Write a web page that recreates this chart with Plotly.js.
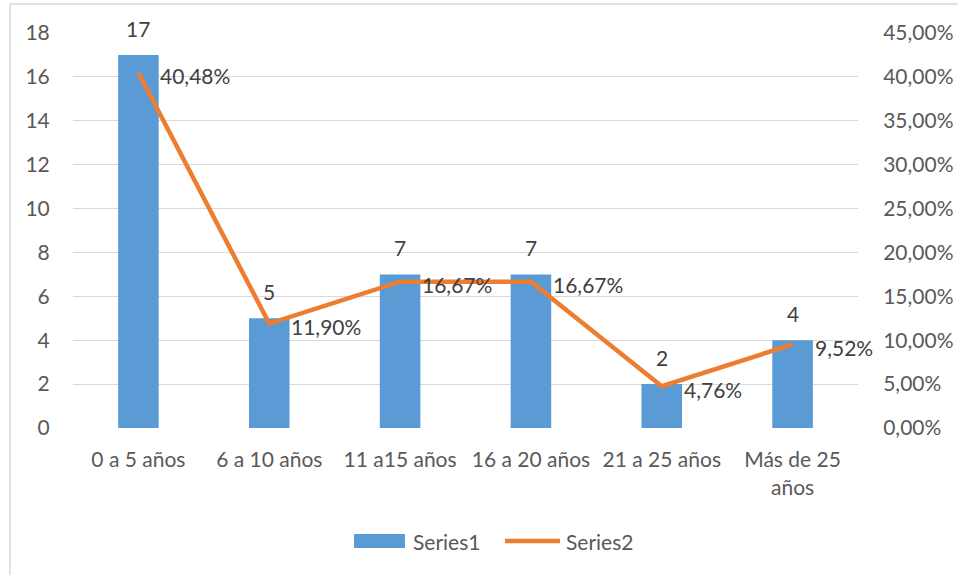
<!DOCTYPE html>
<html>
<head>
<meta charset="utf-8">
<script src="https://cdn.plot.ly/plotly-3.0.1.min.js"></script>
<style>html,body{margin:0;padding:0;background:#fff;}#chart{width:958px;height:575px;}</style>
</head>
<body>
<div id="chart"></div>
<script>
const categories = ["0 a 5 años", "6 a 10 años", "11 a15 años", "16 a 20 años", "21 a 25 años", "Más de 25<br>años"];
const series1 = [17, 5, 7, 7, 2, 4];
const series2 = [0.4048, 0.1190, 0.1667, 0.1667, 0.0476, 0.0952];
const leftTicks = [0, 2, 4, 6, 8, 10, 12, 14, 16, 18];
const rightTicks = [0, 0.05, 0.10, 0.15, 0.20, 0.25, 0.30, 0.35, 0.40, 0.45];
const seriesNames = ["Series1", "Series2"];

const FONT = "Lato, 'Open Sans', sans-serif";
const FS = 21;
const fmtPct = v => (v * 100).toFixed(2).replace('.', ',') + '%';

const traces = [
  {
    type: 'bar', name: seriesNames[0], x: categories, y: series1,
    marker: {color: '#5B9BD5'}, width: 0.31, hoverinfo: 'skip', showlegend: false
  },
  {
    type: 'scatter', mode: 'lines', name: seriesNames[1], x: categories, y: series2,
    yaxis: 'y2', line: {color: '#ED7D31', width: 4.5}, hoverinfo: 'skip', showlegend: false
  }
];

const annotations = [];
categories.forEach((c, i) => {
  annotations.push({
    x: c, y: series1[i], xref: 'x', yref: 'y', text: String(series1[i]),
    showarrow: false, yanchor: 'bottom', xanchor: 'center', yshift: 12,
    font: {family: FONT, size: FS, color: '#404040'}
  });
  annotations.push({
    x: c, y: series2[i], xref: 'x', yref: 'y2', text: fmtPct(series2[i]),
    showarrow: false, yanchor: 'middle', xanchor: 'left', xshift: 20, yshift: -3,
    font: {family: FONT, size: FS, color: '#404040'}
  });
});
// custom legend labels
annotations.push({xref: 'paper', yref: 'paper', x: 0.4306, y: -0.2861, text: seriesNames[0], showarrow: false,
  xanchor: 'left', yanchor: 'middle', font: {family: FONT, size: FS, color: '#595959'}});
annotations.push({xref: 'paper', yref: 'paper', x: 0.6255, y: -0.2861, text: seriesNames[1], showarrow: false,
  xanchor: 'left', yanchor: 'middle', font: {family: FONT, size: FS, color: '#595959'}});

const layout = {
  width: 958, height: 575,
  margin: {l: 73, r: 100, t: 33, b: 147, pad: 0},
  paper_bgcolor: '#fff', plot_bgcolor: '#fff',
  separators: ',.',
  showlegend: false,
  font: {family: FONT, size: FS, color: '#595959'},
  xaxis: {
    type: 'category', range: [-0.5, categories.length - 0.5], autorange: false,
    showgrid: false, zeroline: false, showline: false, automargin: false,
    ticks: 'outside', ticklen: 13, tickcolor: 'rgba(0,0,0,0)',
    tickfont: {family: FONT, size: FS, color: '#595959'}
  },
  yaxis: {
    range: [0, 18], autorange: false, tickvals: leftTicks, showgrid: true, gridcolor: '#d9d9d9', gridwidth: 1,
    zeroline: false, showline: false, automargin: false, ticks: 'outside', ticklen: 18, tickcolor: 'rgba(0,0,0,0)',
    tickfont: {family: FONT, size: FS, color: '#595959'}
  },
  yaxis2: {
    overlaying: 'y', side: 'right', range: [0, 0.45], autorange: false, tickvals: rightTicks, tickformat: '.2%',
    showgrid: false, zeroline: false, showline: false, automargin: false, ticks: 'outside', ticklen: 20, tickcolor: 'rgba(0,0,0,0)',
    tickfont: {family: FONT, size: FS, color: '#595959'}
  },
  annotations: annotations,
  shapes: [
    {type: 'line', xref: 'paper', yref: 'paper', x0: -0.0803, x1: 1.3, y0: 1.0734, y1: 1.0734, line: {color: '#d9d9d9', width: 1.5}},
    {type: 'line', xref: 'paper', yref: 'paper', x0: -0.0803, x1: -0.0803, y0: 1.0734, y1: -0.5, line: {color: '#d9d9d9', width: 1.5}},
    {type: 'rect', xref: 'paper', yref: 'paper', x0: 0.358, x1: 0.4229, y0: -0.3038, y1: -0.2684, fillcolor: '#5B9BD5', line: {width: 0}},
    {type: 'line', xref: 'paper', yref: 'paper', x0: 0.5503, x1: 0.6204, y0: -0.2861, y1: -0.2861, line: {color: '#ED7D31', width: 4.5}}
  ]
};

Plotly.newPlot('chart', traces, layout, {displayModeBar: false, staticPlot: true});
</script>
</body>
</html>
